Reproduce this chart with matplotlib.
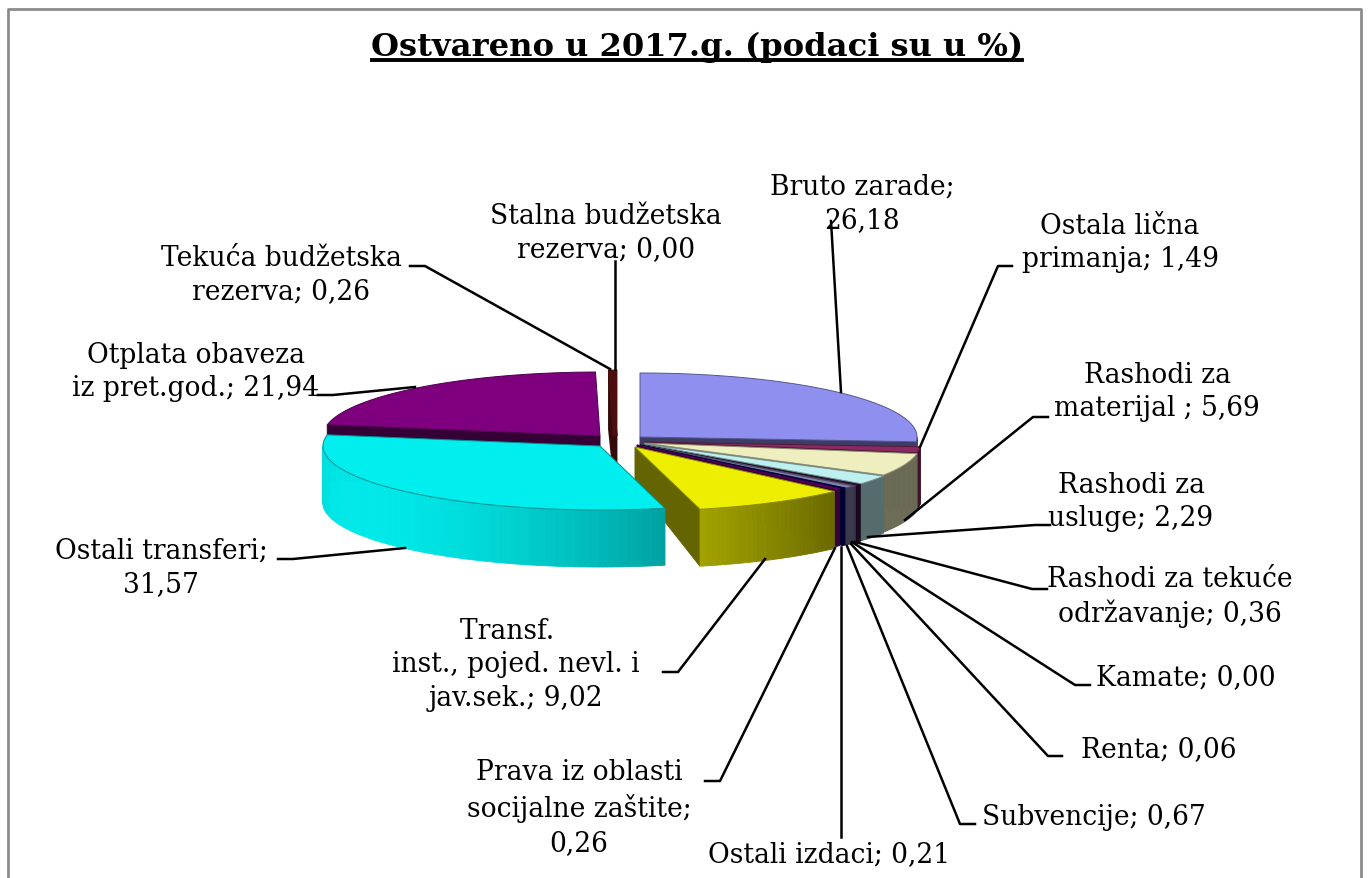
import numpy as np
import matplotlib
matplotlib.use("Agg")
import matplotlib.pyplot as plt

title = "Ostvareno u 2017.g. (podaci su u %)"

# pie data, clockwise from 12 o'clock
label_tpl = [
    "Bruto zarade;\n{}",
    "Ostala lična\nprimanja; {}",
    "Rashodi za\nmaterijal ; {}",
    "Rashodi za\nusluge; {}",
    "Rashodi za tekuće\nodržavanje; {}",
    "Kamate; {}",
    "Renta; {}",
    "Subvencije; {}",
    "Ostali izdaci; {}",
    "Prava iz oblasti\nsocijalne zaštite;\n{}",
    "Transf.  \ninst., pojed. nevl. i\njav.sek.; {}",
    "Ostali transferi;\n{}",
    "Otplata obaveza\niz pret.god.; {}",
    "Tekuća budžetska\nrezerva; {}",
    "Stalna budžetska\nrezerva; {}",
]
values = [26.18, 1.49, 5.69, 2.29, 0.36, 0.00, 0.06, 0.67, 0.21, 0.26,
          9.02, 31.57, 21.94, 0.26, 0.00]
colors = ["#8F8FEF", "#8A2A62", "#EEEEBE", "#BEF0F0", "#3A1040", "#502050",
          "#7070A0", "#8080A8", "#000070", "#800080",
          "#EEEE00", "#00EEEE", "#7F007F", "#7F1818", "#7F1818"]

# layout in pixels
apex = [(640, 438), (644, 443), (644, 444), (644, 445), (643, 446), (642, 446),
        (642, 446), (641, 446), (640, 446), (637, 446),
        (635, 448), (600, 447), (600, 437), (615, 437), (616, 437)]
label_pos = [(862, 204), (1120, 243), (1157, 392), (1131, 502), (1170, 597),
             (1186, 678), (1159, 750), (1094, 818), (829, 855), (579, 808),
             (516, 665), (161, 568), (196, 372), (281, 275), (606, 233)]
leaders = [
    [(831, 222), (841, 393)],
    [(1012, 267), (998, 267), (920, 448)],
    [(1048, 418), (1033, 418), (905, 521)],
    [(1050, 526), (1035, 526), (868, 538)],
    [(1047, 590), (1032, 590), (855, 543)],
    [(1090, 686), (1075, 686), (852, 543)],
    [(1062, 757), (1048, 757), (851, 545)],
    [(975, 825), (960, 825), (847, 547)],
    [(841, 838), (841, 548)],
    [(705, 782), (720, 782), (835, 549)],
    [(663, 673), (678, 673), (765, 560)],
    [(278, 560), (293, 560), (405, 549)],
    [(318, 396), (333, 396), (415, 388)],
    [(410, 267), (425, 267), (610, 370)],
    [(615, 262), (615, 370)],
]
RX, RY = 277, 64
DEPTH_RIM, DEPTH_APEX = 57, 37
# back slices first, cyan and yellow last
draw_order = [12, 13, 14, 0, 1, 2, 3, 4, 5, 6, 7, 8, 9, 10, 11]


def rim(a, th):
    t = np.radians(th)
    return a[0] + RX * np.sin(t), a[1] - RY * np.cos(t)


def shade(col, f):
    return tuple(min(1, c * f) for c in matplotlib.colors.to_rgb(col))


def draw_face(ax, a, th, col, lw):
    x, y = rim(a, th)
    ax.fill([a[0], x, x, a[0]], [a[1], y, y + DEPTH_RIM, a[1] + DEPTH_APEX],
            color=shade(col, 0.42), lw=lw)


def draw_slice(ax, a, th1, th2, col, edge_lw=0.7):
    if th2 - th1 < 0.01:
        return
    # only the cut faces turned to the viewer
    if th1 > 270:
        draw_face(ax, a, th1, col, edge_lw)
    if th2 <= 180:
        draw_face(ax, a, th2, col, edge_lw)
    # side wall, shaded strip by strip, front half only
    steps = np.arange(th1, th2 + 1, 1.0)
    steps[-1] = th2
    for s1, s2 in zip(steps[:-1], steps[1:]):
        if s1 >= 270 or s2 <= 90:
            continue
        x1, y1 = rim(a, s1)
        x2, y2 = rim(a, s2)
        f = max(0.45, 0.56 + 0.42 * np.cos(np.radians((s1 + s2) / 2 - 240)))
        ax.fill([x1, x2, x2, x1], [y1, y2, y2 + DEPTH_RIM, y1 + DEPTH_RIM],
                color=shade(col, f), lw=0.6)
    # top surface
    arc = np.linspace(th1, th2, max(3, int(th2 - th1) * 2))
    xs, ys = rim(a, arc)
    ax.fill(np.r_[a[0], xs], np.r_[a[1], ys], facecolor=col,
            edgecolor=shade(col, 0.6), lw=edge_lw)


def main():
    plt.rcParams["font.family"] = ["DejaVu Serif"]
    fig = plt.figure(figsize=(13.68, 8.79), dpi=100)
    ax = fig.add_axes([0, 0, 1, 1])
    ax.set_xlim(0, 1368)
    ax.set_ylim(879, 0)
    ax.axis("off")

    # chart frame, runs off the bottom
    ax.plot([8, 8, 1361, 1361], [885, 10, 10, 885], color="#8c8c8c", lw=2)

    edges = np.r_[0, np.cumsum(values)] / sum(values) * 360
    for i in draw_order:
        lw = 3.5 if i >= 13 else 0.7
        draw_slice(ax, apex[i], edges[i], edges[i + 1], colors[i], lw)

    for pts in leaders:
        ax.plot([p[0] for p in pts], [p[1] for p in pts], color="black", lw=1.8)

    for tpl, v, pos in zip(label_tpl, values, label_pos):
        txt = tpl.format(f"{v:.2f}".replace(".", ","))
        ax.text(pos[0], pos[1], txt, ha="center", va="center", fontsize=19.1,
                linespacing=1.33, color="black")

    ax.text(697, 47, title, ha="center", va="center", fontsize=23.1, fontweight="bold")
    ax.plot([372, 1022], [61, 61], color="black", lw=2.8)

    fig.savefig("out.png", dpi=100)


if __name__ == "__main__":
    main()
